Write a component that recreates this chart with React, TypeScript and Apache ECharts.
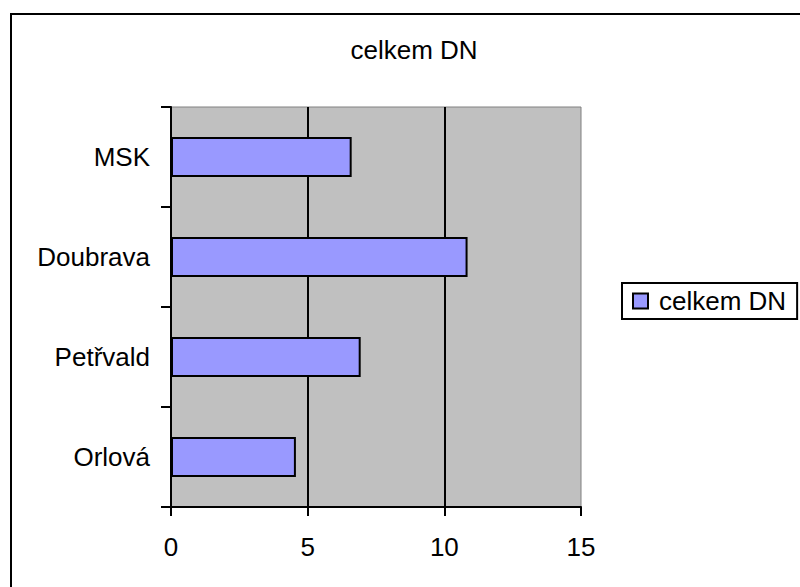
import React, { useEffect, useRef } from "react";
import * as echarts from "echarts";

const categories = ["Orlová", "Petřvald", "Doubrava", "MSK"];
const values = [4.57, 6.94, 10.85, 6.61];
const seriesName = "celkem DN";
const titleText = "celkem DN";

const FONT = "'Liberation Sans', Arial, sans-serif";

export default function App() {
  const ref = useRef<HTMLDivElement>(null);
  useEffect(() => {
    if (!ref.current) return;
    const chart = echarts.init(ref.current, null, { renderer: "svg" });
    chart.setOption({
      animation: false,
      backgroundColor: "#ffffff",
      textStyle: { fontFamily: FONT },
      title: {
        text: titleText,
        left: 409,
        textAlign: "center",
        top: 32,
        textStyle: { fontFamily: FONT, fontSize: 26, fontWeight: "normal", color: "#000" },
      },
      graphic: [
        {
          type: "rect",
          shape: { x: 11, y: 14, width: 900, height: 700 },
          style: { fill: "none", stroke: "#000", lineWidth: 2 },
          z: 100,
        },
      ],
      legend: {
        data: [seriesName],
        left: 622,
        top: 283,
        orient: "vertical",
        padding: [5, 11, 5, 10],
        itemWidth: 15,
        itemHeight: 15,
        icon: "rect",
        borderColor: "#000",
        borderWidth: 2,
        borderRadius: 0,
        backgroundColor: "#fff",
        textStyle: { fontFamily: FONT, fontSize: 26, color: "#000", padding: [0, 0, 0, 6] },
      },
      grid: {
        left: 171,
        top: 107,
        width: 410,
        height: 400,
        show: true,
        backgroundColor: "#C0C0C0",
        borderColor: "#808080",
        borderWidth: 1,
        containLabel: false,
      },
      xAxis: {
        type: "value",
        min: 0,
        max: 15,
        interval: 5,
        axisLine: { show: true, onZero: false, lineStyle: { color: "#000", width: 2 } },
        axisTick: { show: true, length: 9, lineStyle: { color: "#000", width: 2 } },
        axisLabel: { fontFamily: FONT, fontSize: 26, color: "#000", margin: 27 },
        splitLine: { show: true, showMinLine: false, showMaxLine: false, lineStyle: { color: "#000", width: 2 } },
      },
      yAxis: {
        type: "category",
        data: categories,
        axisLine: { show: true, lineStyle: { color: "#000", width: 2 } },
        axisTick: { show: true, length: 10, lineStyle: { color: "#000", width: 2 } },
        axisLabel: { fontFamily: FONT, fontSize: 26, color: "#000", margin: 21 },
        splitLine: { show: false },
      },
      series: [
        {
          name: seriesName,
          type: "bar",
          data: values,
          barWidth: "40%",
          itemStyle: { color: "#9999FF", borderColor: "#000", borderWidth: 2 },
        },
      ],
    });
    return () => chart.dispose();
  }, []);
  return (
    <div
      ref={ref}
      style={{ position: "absolute", left: 0, top: 0, width: 800, height: 587, background: "#fff" }}
    />
  );
}
